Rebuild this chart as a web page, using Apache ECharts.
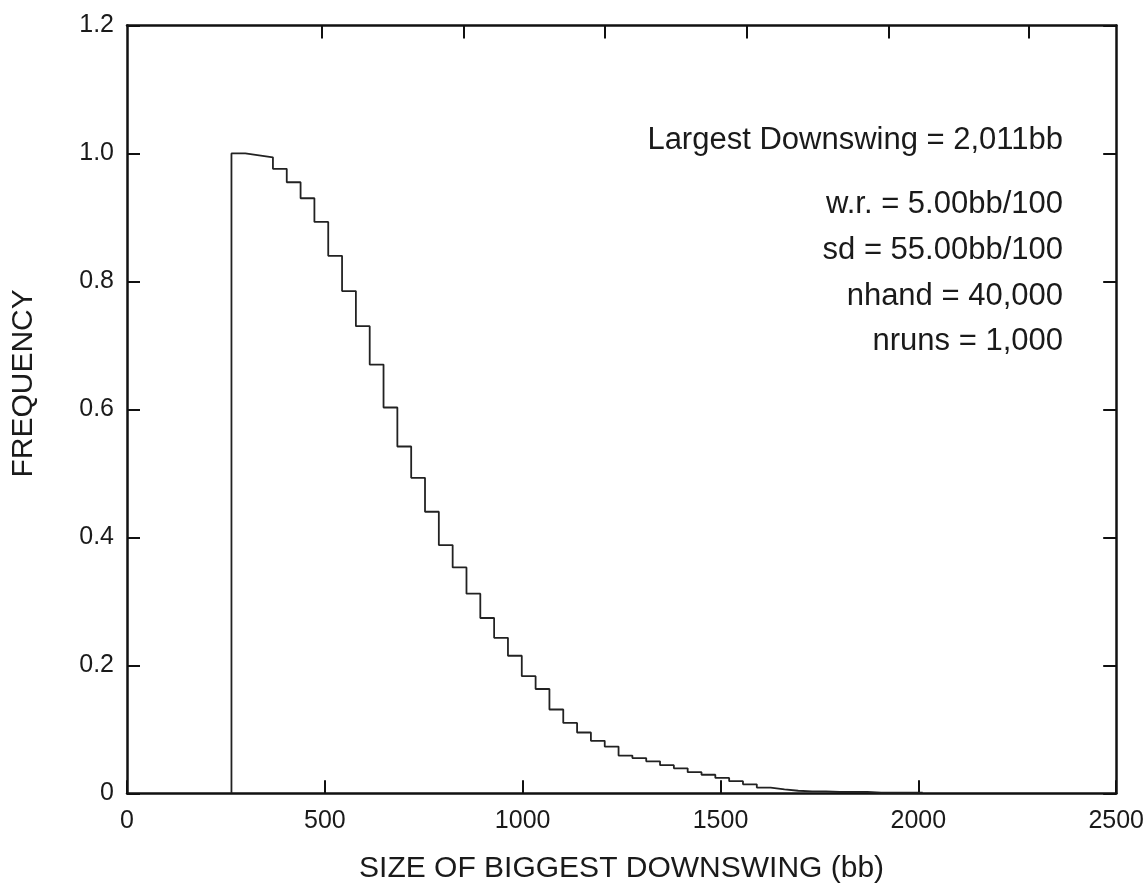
<!DOCTYPE html>
<html>
<head>
<meta charset="utf-8">
<script src="https://cdn.jsdelivr.net/npm/echarts@6/dist/echarts.min.js"></script>
<style>
html,body{margin:0;padding:0;background:#fff;}
#chart{width:1147px;height:889px;}
</style>
</head>
<body>
<div id="chart"></div>
<script>
// ---- data ----
const minDownswing = 264;      // left edge of first bin (bb)
const maxDownswing = 2011;     // largest downswing (bb)
const binCount = 50;
const frequency = [
  1.000, 0.997, 0.994, 0.976, 0.955, 0.930, 0.893, 0.840, 0.785, 0.730,
  0.670, 0.603, 0.542, 0.493, 0.440, 0.388, 0.353, 0.312, 0.274, 0.243,
  0.215, 0.183, 0.163, 0.131, 0.110, 0.095, 0.082, 0.073, 0.059, 0.055,
  0.050, 0.044, 0.039, 0.033, 0.029, 0.024, 0.019, 0.014, 0.009, 0.006,
  0.004, 0.003, 0.003, 0.002, 0.002, 0.002, 0.001, 0.001, 0.001, 0.001
];
const xTicks = [0, 500, 1000, 1500, 2000, 2500];
const topTicks = [493, 851, 1208, 1567, 1925, 2280];
const yTicks = [0, 0.2, 0.4, 0.6, 0.8, 1.0, 1.2];
const xTitle = 'SIZE OF BIGGEST DOWNSWING (bb)';
const yTitle = 'FREQUENCY';
const notes = [
  'Largest Downswing = 2,011bb',
  'w.r. = 5.00bb/100',
  'sd = 55.00bb/100',
  'nhand = 40,000',
  'nruns = 1,000'
];

// ---- build step data ----
const binWidth = (maxDownswing - minDownswing) / binCount;
const stepData = [[minDownswing, 0]];
frequency.forEach((v, i) => stepData.push([minDownswing + i * binWidth, v]));
stepData.push([maxDownswing, 0]);

const FONT = '"Liberation Sans", Arial, Helvetica, sans-serif';
const INK = '#1a1a1a';
const noteY = [141, 205, 251, 297, 342];

const chart = echarts.init(document.getElementById('chart'), null, {renderer: 'canvas'});
const axisLine = {show: true, onZero: false, lineStyle: {color: '#111', width: 2.5}};
const tick = {show: true, inside: true, length: 13, lineStyle: {color: '#111', width: 2}};

chart.setOption({
  animation: false,
  backgroundColor: '#fff',
  grid: {left: 127, right: 29, top: 25.5, bottom: 95.7, containLabel: false},
  xAxis: [
    {
      type: 'value', position: 'bottom', min: xTicks[0], max: xTicks[xTicks.length - 1], interval: 500,
      axisLine: axisLine, axisTick: tick, splitLine: {show: false},
      axisLabel: {color: INK, fontSize: 25, fontFamily: FONT, margin: 15, formatter: v => String(v)},
      name: xTitle, nameLocation: 'middle', nameGap: 60,
      nameTextStyle: {color: INK, fontSize: 30, fontFamily: FONT}
    },
    {
      type: 'value', position: 'top', min: xTicks[0], max: xTicks[xTicks.length - 1],
      axisLine: axisLine,
      axisTick: Object.assign({}, tick, {customValues: topTicks}),
      axisLabel: {show: false}, splitLine: {show: false}
    }
  ],
  yAxis: [
    {
      type: 'value', position: 'left', min: yTicks[0], max: yTicks[yTicks.length - 1], interval: 0.2,
      axisLine: axisLine, axisTick: tick, splitLine: {show: false},
      axisLabel: {color: INK, fontSize: 25, fontFamily: FONT, margin: 13,
        formatter: v => v === 0 ? '0' : v.toFixed(1)},
      name: yTitle, nameLocation: 'middle', nameGap: 88, nameRotate: 90,
      nameTextStyle: {color: INK, fontSize: 30, fontFamily: FONT, padding: [0, 0, 0, 52]}
    },
    {
      type: 'value', position: 'right', min: yTicks[0], max: yTicks[yTicks.length - 1], interval: 0.2,
      axisLine: axisLine, axisTick: tick, axisLabel: {show: false}, splitLine: {show: false}
    }
  ],
  graphic: notes.map((t, i) => ({
    type: 'text', right: 1147 - 1063, top: noteY[i] - 16, silent: true,
    style: {text: t, fill: INK, font: '31px ' + FONT, textAlign: 'right'}
  })),
  series: [{
    type: 'line', xAxisIndex: 0, yAxisIndex: 0, step: 'end', symbol: 'none',
    data: stepData,
    lineStyle: {color: '#222', width: 1.8}
  }]
});
</script>
</body>
</html>
